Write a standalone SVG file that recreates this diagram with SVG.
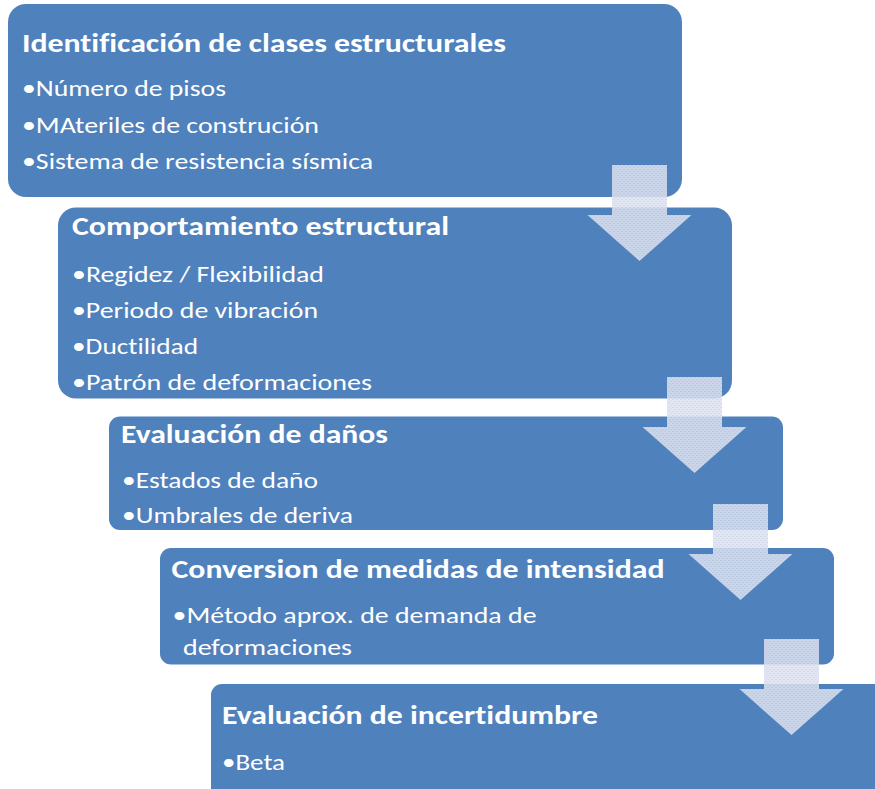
<svg xmlns="http://www.w3.org/2000/svg" width="875" height="789" viewBox="0 0 875 789">
  <defs>
    <style>
      .box { fill: #4f81bd; }
      text { font-family: Carlito, Calibri, Lato, "Liberation Sans", sans-serif; fill: #ffffff; font-variant-ligatures: none; }
      .title { font-weight: bold; font-size: 26px; }
      .item { font-size: 22px; }
      .arrow { fill: url(#mesh); opacity: 0.87; }
    </style>
    <pattern id="mesh" width="4" height="4" patternUnits="userSpaceOnUse">
      <rect width="4" height="4" fill="#dce2f0"/>
      <rect x="0" y="0" width="1" height="1" fill="#bccae3"/>
      <rect x="2" y="2" width="1" height="1" fill="#bccae3"/>
    </pattern>
    <path id="downArrow" d="M-27.5,0 H27.5 V50 H52 L0,96 L-52,50 H-27.5 Z"/>
  </defs>

  <g id="node1">
    <rect class="box" x="8" y="4" width="674" height="193" rx="18" ry="18"/>
    <text class="title" x="22" y="52" textLength="484" lengthAdjust="spacingAndGlyphs">Identificación de clases estructurales</text>
    <text class="item" x="22" y="96" textLength="204" lengthAdjust="spacingAndGlyphs">•Número de pisos</text>
    <text class="item" x="22" y="132.5" textLength="297" lengthAdjust="spacingAndGlyphs">•MAteriles de construción</text>
    <text class="item" x="22" y="168.5" textLength="351" lengthAdjust="spacingAndGlyphs">•Sistema de resistencia sísmica</text>
  </g>

  <g id="node2">
    <rect class="box" x="58" y="207.5" width="674" height="191" rx="18" ry="18"/>
    <text class="title" x="72" y="235" textLength="377" lengthAdjust="spacingAndGlyphs">Comportamiento estructural</text>
    <text class="item" x="72" y="281.5" textLength="252" lengthAdjust="spacingAndGlyphs">•Regidez / Flexibilidad</text>
    <text class="item" x="72" y="317.5" textLength="246" lengthAdjust="spacingAndGlyphs">•Periodo de vibración</text>
    <text class="item" x="72" y="353.5" textLength="126" lengthAdjust="spacingAndGlyphs">•Ductilidad</text>
    <text class="item" x="72" y="389.5" textLength="300" lengthAdjust="spacingAndGlyphs">•Patrón de deformaciones</text>
  </g>

  <g id="node3">
    <rect class="box" x="109" y="416.5" width="674" height="113.5" rx="11" ry="11"/>
    <text class="title" x="121" y="442.5" textLength="267" lengthAdjust="spacingAndGlyphs">Evaluación de daños</text>
    <text class="item" x="122" y="487.5" textLength="196" lengthAdjust="spacingAndGlyphs">•Estados de daño</text>
    <text class="item" x="122" y="523" textLength="231" lengthAdjust="spacingAndGlyphs">•Umbrales de deriva</text>
  </g>

  <g id="node4">
    <rect class="box" x="160" y="548" width="674" height="116.5" rx="11" ry="11"/>
    <text class="title" x="171.5" y="577.5" textLength="493" lengthAdjust="spacingAndGlyphs">Conversion de medidas de intensidad</text>
    <text class="item" x="172.5" y="622.5" textLength="364" lengthAdjust="spacingAndGlyphs">•Método aprox. de demanda de</text>
    <text class="item" x="183" y="654.5" textLength="169" lengthAdjust="spacingAndGlyphs">deformaciones</text>
  </g>

  <g id="node5">
    <rect class="box" x="211" y="684" width="674" height="116" rx="11" ry="11"/>
    <text class="title" x="222" y="723.5" textLength="376" lengthAdjust="spacingAndGlyphs">Evaluación de incertidumbre</text>
    <text class="item" x="222" y="769.5" textLength="63" lengthAdjust="spacingAndGlyphs">•Beta</text>
  </g>

  <g id="connectors">
    <use href="#downArrow" class="arrow" transform="translate(639.5,165)"/>
    <use href="#downArrow" class="arrow" transform="translate(694.5,377)"/>
    <use href="#downArrow" class="arrow" transform="translate(740.5,504)"/>
    <use href="#downArrow" class="arrow" transform="translate(791.5,639)"/>
  </g>
</svg>
